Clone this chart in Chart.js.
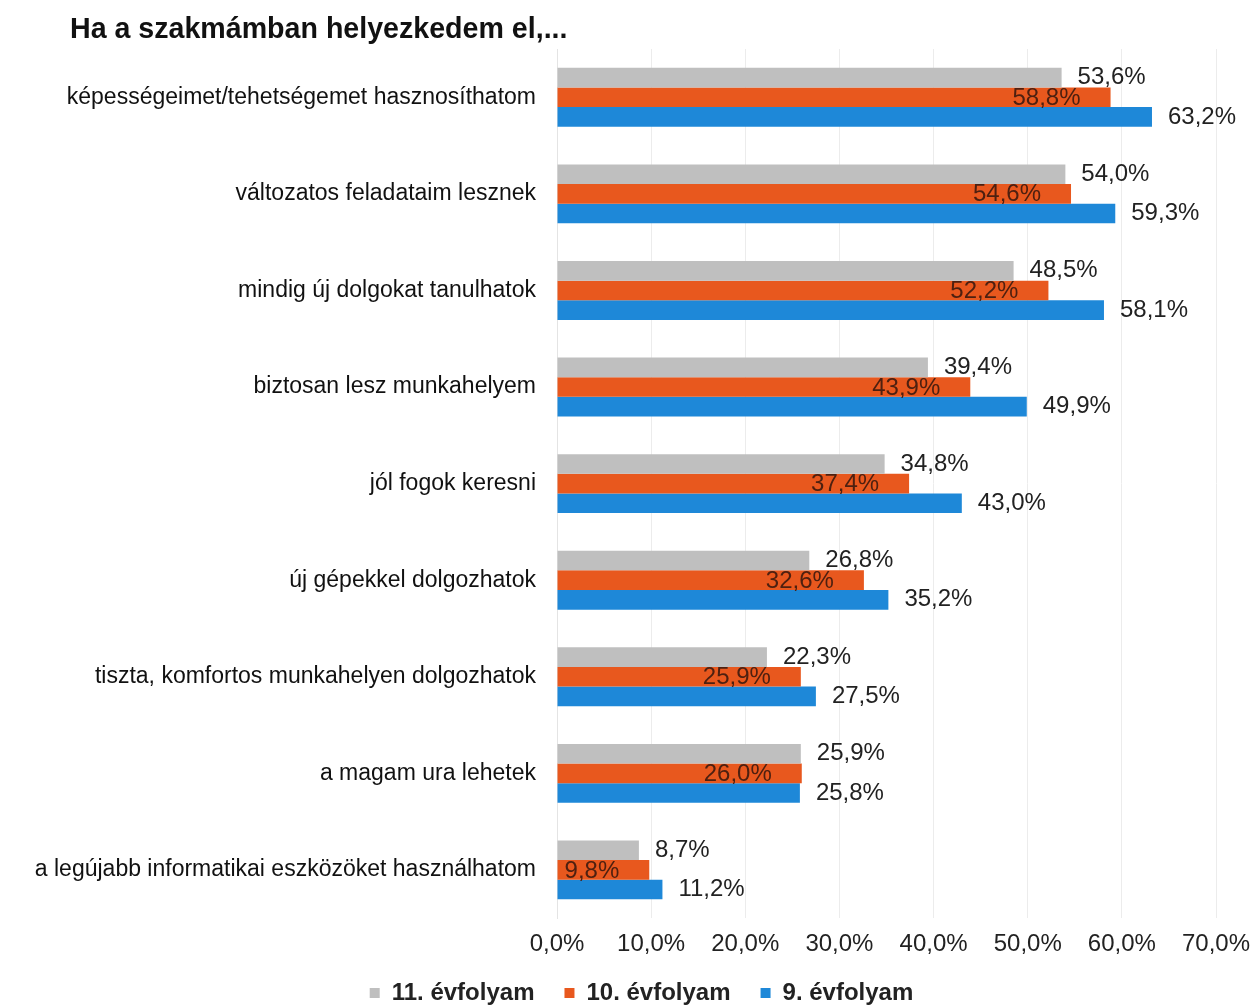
<!DOCTYPE html>
<html>
<head>
<meta charset="utf-8">
<script src="https://cdn.jsdelivr.net/npm/chart.js@4/dist/chart.umd.min.js"></script>
<style>
  html, body { margin: 0; padding: 0; background: #fff; }
  #wrap { width: 1253px; height: 1005px; }
</style>
</head>
<body>
<div id="wrap"><canvas id="myChart"></canvas></div>
<script>
const categories = [
  'képességeimet/tehetségemet hasznosíthatom',
  'változatos feladataim lesznek',
  'mindig új dolgokat tanulhatok',
  'biztosan lesz munkahelyem',
  'jól fogok keresni',
  'új gépekkel dolgozhatok',
  'tiszta, komfortos munkahelyen dolgozhatok',
  'a magam ura lehetek',
  'a legújabb informatikai eszközöket használhatom'
];
const grade11 = [53.6, 54.0, 48.5, 39.4, 34.8, 26.8, 22.3, 25.9, 8.7];
const grade10 = [58.8, 54.6, 52.2, 43.9, 37.4, 32.6, 25.9, 26.0, 9.8];
const grade9 = [63.2, 59.3, 58.1, 49.9, 43.0, 35.2, 27.5, 25.8, 11.2];
const seriesNames = ['11. évfolyam', '10. évfolyam', '9. évfolyam'];
const titleText = 'Ha a szakmámban helyezkedem el,...';

const FONT = "'Liberation Sans', Arial, sans-serif";
const fmt = v => v.toFixed(1).replace('.', ',') + '%';

// title drawn by hand, left of the plot
const titlePlugin = {
  id: 'titleText',
  beforeDraw(chart) {
    const ctx = chart.ctx;
    ctx.save();
    ctx.font = 'bold 28.6px ' + FONT;
    ctx.fillStyle = '#111';
    ctx.textBaseline = 'middle';
    ctx.textAlign = 'left';
    ctx.fillText(titleText, 70, 30);
    ctx.restore();
  }
};

// value labels next to / inside the bars
const valueLabels = {
  id: 'valueLabels',
  afterDatasetsDraw(chart) {
    const ctx = chart.ctx;
    ctx.save();
    ctx.font = '24px ' + FONT;
    ctx.textBaseline = 'middle';
    chart.data.datasets.forEach((ds, i) => {
      const meta = chart.getDatasetMeta(i);
      meta.data.forEach((bar, j) => {
        const txt = fmt(ds.data[j]);
        if (i === 1) {
          ctx.fillStyle = '#4e2010';
          ctx.textAlign = 'right';
          ctx.fillText(txt, bar.x - 30, bar.y + 1);
        } else {
          ctx.fillStyle = '#222';
          ctx.textAlign = 'left';
          ctx.fillText(txt, bar.x + 16, bar.y);
        }
      });
    });
    ctx.restore();
  }
};

new Chart(document.getElementById('myChart').getContext('2d'), {
  type: 'bar',
  data: {
    labels: categories,
    datasets: [
      { label: seriesNames[0], data: grade11, backgroundColor: '#bfbfbf' },
      { label: seriesNames[1], data: grade10, backgroundColor: '#e8581e' },
      { label: seriesNames[2], data: grade9, backgroundColor: '#1e88d8' }
    ]
  },
  options: {
    indexAxis: 'y',
    responsive: true,
    maintainAspectRatio: false,
    animation: false,
    datasets: {
      bar: { categoryPercentage: 0.61, barPercentage: 1.0 }
    },
    layout: { padding: { top: 49, right: 0, left: 30, bottom: -10 } },
    scales: {
      x: {
        min: 0,
        max: 70,
        ticks: {
          stepSize: 10,
          callback: v => fmt(v),
          color: '#222',
          font: { family: FONT, size: 24 },
          padding: 12
        },
        grid: { color: '#ececec', drawTicks: false },
        border: { display: false },
        afterFit(scale) { scale.paddingRight = 37; scale.paddingLeft = 0; }
      },
      y: {
        ticks: {
          color: '#111',
          font: { family: FONT, size: 23 },
          padding: 13
        },
        grid: { display: false },
        border: { color: '#e4e4e4' },
        afterFit(scale) { scale.width = 527; }
      }
    },
    plugins: {
      legend: {
        position: 'bottom',
        labels: {
          boxWidth: 10,
          boxHeight: 10,
          padding: 10,
          color: '#222',
          font: { family: FONT, size: 24, weight: 'bold' },
          generateLabels(chart) {
            const items = Chart.defaults.plugins.legend.labels.generateLabels(chart);
            items.forEach((it, k) => {
              if (k < items.length - 1) it.text = it.text + '   ';
            });
            return items;
          }
        }
      },
      tooltip: { enabled: false }
    }
  },
  plugins: [titlePlugin, valueLabels]
});
</script>
</body>
</html>
